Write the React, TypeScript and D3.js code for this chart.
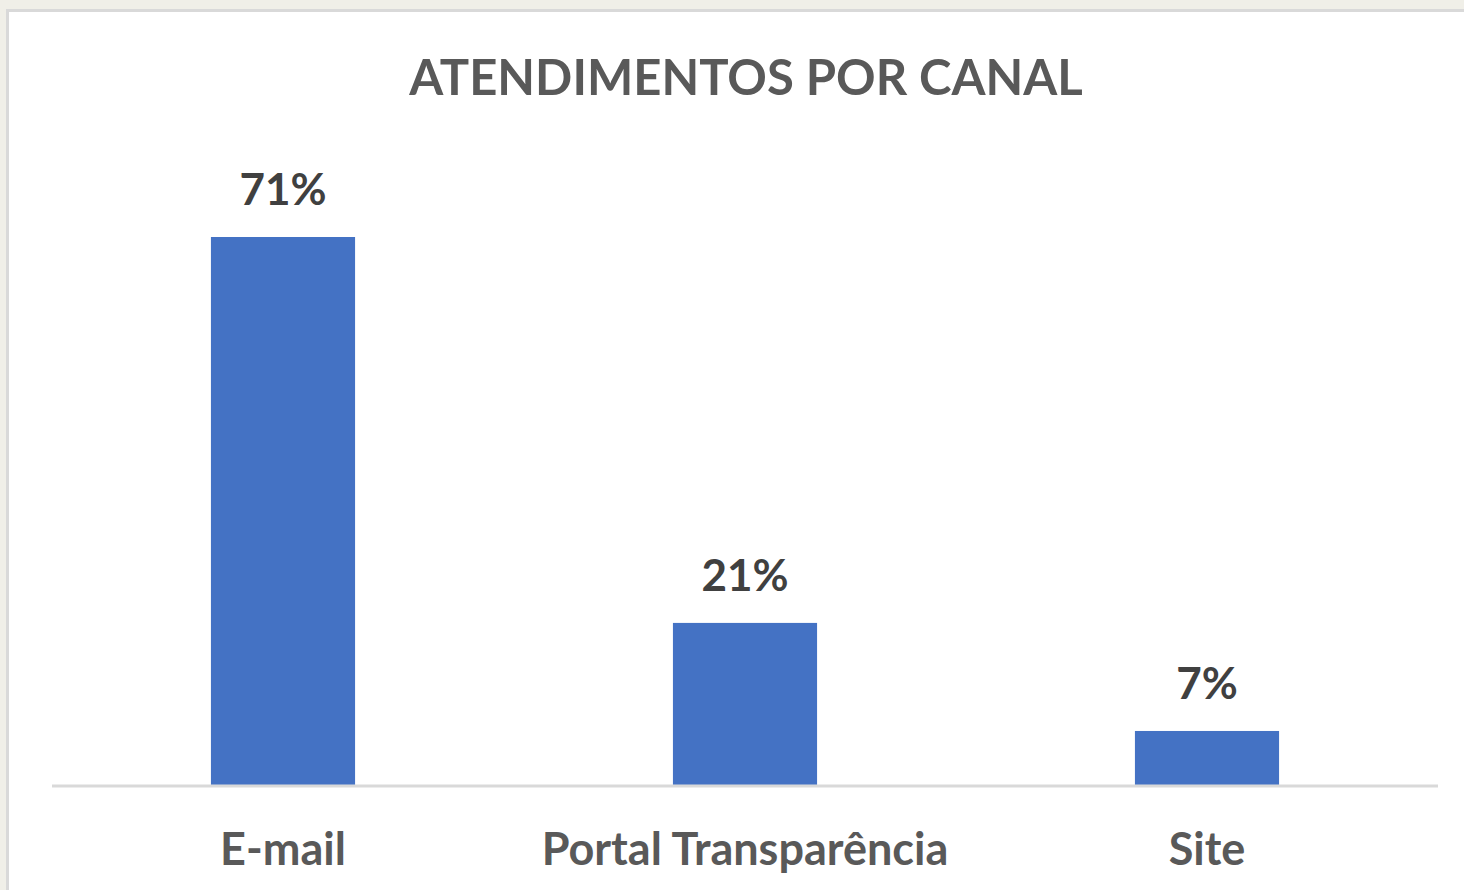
import React from "react";
import * as d3 from "d3";

const categories = ["E-mail", "Portal Transparência", "Site"];
const values = [71, 21, 7];
const valueLabels = ["71%", "21%", "7%"];
const title = "ATENDIMENTOS POR CANAL";

const W = 1464;
const H = 890;
const FONT = "Lato, 'Open Sans', sans-serif";

export default function App() {
  const x = d3
    .scaleBand<string>()
    .domain(categories)
    .range([52, 1438])
    .paddingInner(0.688)
    .paddingOuter(0.344);
  const baseY = 785;
  const y = d3.scaleLinear().domain([0, 71]).range([baseY, 237]);

  return (
    <svg
      width={W}
      height={H}
      style={{ position: "fixed", left: 0, top: 0, display: "block" }}
    >
      <rect x={0} y={0} width={W} height={H} fill="#f0efe8" />
      <rect
        x={7.5}
        y={10.5}
        width={W + 20}
        height={H + 20}
        fill="#ffffff"
        stroke="#d9d9d9"
        strokeWidth={3}
      />
      <text
        x={746}
        y={95}
        textAnchor="middle"
        fontFamily={FONT}
        fontWeight={700}
        fontSize={49}
        fill="#595959"
      >
        {title}
      </text>
      {categories.map((c, i) => (
        <g key={c}>
          <rect
            x={x(c)}
            y={y(values[i])}
            width={x.bandwidth()}
            height={baseY - y(values[i])}
            fill="#4472c4"
          />
          <text
            x={(x(c) as number) + x.bandwidth() / 2}
            y={y(values[i]) - 32}
            textAnchor="middle"
            fontFamily={FONT}
            fontWeight={700}
            fontSize={44}
            fill="#404040"
          >
            {valueLabels[i]}
          </text>
          <text
            x={(x(c) as number) + x.bandwidth() / 2}
            y={865}
            textAnchor="middle"
            fontFamily={FONT}
            fontWeight={700}
            fontSize={45}
            fill="#595959"
          >
            {c}
          </text>
        </g>
      ))}
      <line
        x1={52}
        x2={1438}
        y1={786}
        y2={786}
        stroke="#d9d9d9"
        strokeWidth={3}
      />
    </svg>
  );
}
